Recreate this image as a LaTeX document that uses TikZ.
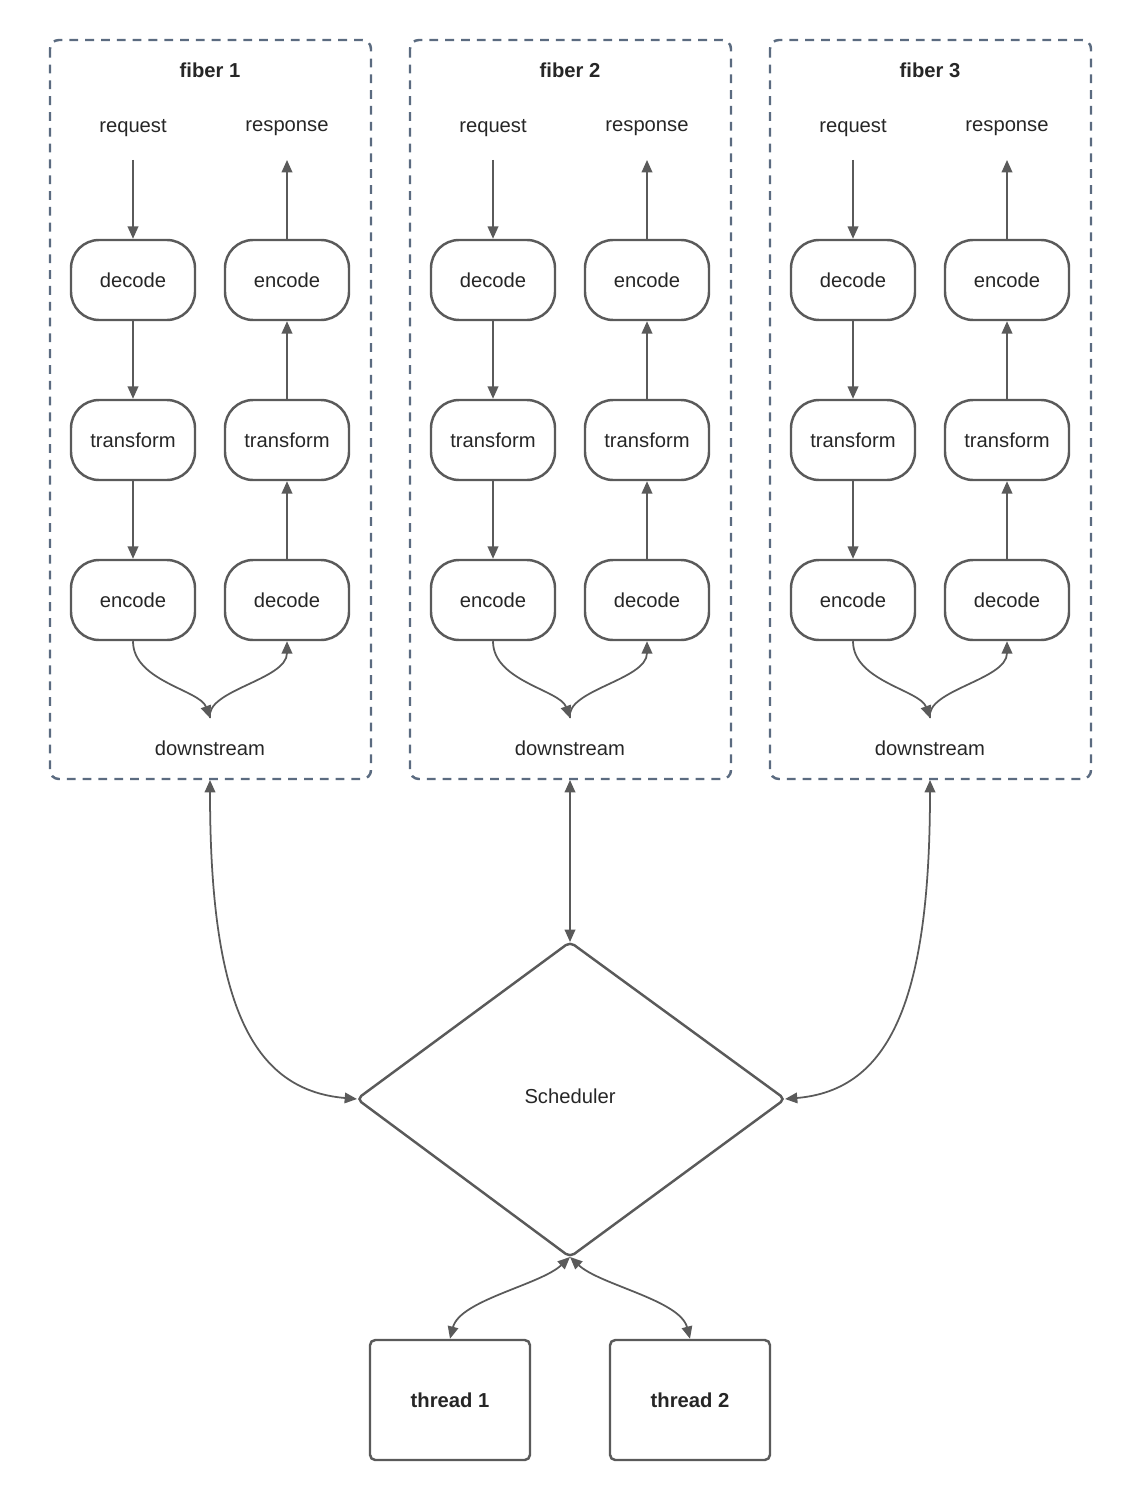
\documentclass[tikz,border=0pt]{standalone}
\usepackage{fontspec}
\setmainfont{Liberation Sans}
\usetikzlibrary{arrows.meta}
\definecolor{ln}{HTML}{5A5A5A}
\definecolor{dash}{HTML}{5B6B80}
\begin{document}
\begin{tikzpicture}[x=0.02cm,y=-0.02cm,
  every node/.style={font=\fontsize{11.5}{13}\selectfont,text=black!85},
  fib/.style={draw=dash,line width=1.4pt,dash pattern=on 5pt off 4pt,rounded corners=5pt},
  pill/.style={draw=ln,line width=1.4pt,rounded corners=16pt,minimum width=124*0.02cm,minimum height=80*0.02cm,inner sep=0pt},
  thr/.style={draw=ln,line width=1.4pt,rounded corners=3pt,minimum width=160*0.02cm,minimum height=120*0.02cm,font=\fontsize{11.5}{13}\selectfont\bfseries},
  ar/.style={draw=ln,line width=1pt,-{Triangle[length=7pt,width=6pt]}},
  dar/.style={draw=ln,line width=1pt,{Triangle[length=7pt,width=6pt]}-{Triangle[length=7pt,width=6pt]}}]
\useasboundingbox (0,0) rectangle (1140,1500);
\foreach \i/\x in {1/210,2/570,3/930}{
  \draw[fib] (\x-160,40) rectangle (\x+161,779);
  \coordinate (fb\i) at (\x,780);
  \node[font=\fontsize{11.5}{13}\selectfont\bfseries] at (\x,70) {fiber \i};
  \node (req\i) at (\x-77,128) {request};
  \node (resp\i) at (\x+77,128) {response};
  \coordinate (reqb\i) at (\x-77,160);
  \coordinate (respb\i) at (\x+77,160);
  \node[pill] (d1\i) at (\x-77,280) {decode};
  \node[pill] (t1\i) at (\x-77,440) {transform};
  \node[pill] (e1\i) at (\x-77,600) {encode};
  \node[pill] (e2\i) at (\x+77,280) {encode};
  \node[pill] (t2\i) at (\x+77,440) {transform};
  \node[pill] (d2\i) at (\x+77,600) {decode};
  \coordinate (ds\i) at (\x,718);
  \node (dsl\i) at (\x,748) {downstream};
  \draw[ar] (reqb\i) -- (d1\i);
  \draw[ar] (d1\i) -- (t1\i);
  \draw[ar] (t1\i) -- (e1\i);
  \draw[ar] (d2\i) -- (t2\i);
  \draw[ar] (t2\i) -- (e2\i);
  \draw[ar] (e2\i) -- (respb\i);
  \draw[ar] (e1\i.south) .. controls +(0,40) and (\x-10,690) .. (ds\i);
  \draw[ar] (ds\i) .. controls (\x-5,690) and (\x+77,680) .. (d2\i.south);
}
\coordinate (dt) at (570,942);
\coordinate (dl) at (357,1099);
\coordinate (dr) at (785,1099);
\coordinate (db) at (570,1257);
\draw[draw=ln,line width=1.4pt,rounded corners=3pt] (dt) -- (dr) -- (db) -- (dl) -- cycle;
\node (sch) at (570,1096) {Scheduler};
\node[thr] (th1) at (450,1400) {thread 1};
\node[thr] (th2) at (690,1400) {thread 2};
\draw[dar] (fb1) .. controls (210,1000) and (250,1090) .. (dl);
\draw[dar] (fb2) -- (dt);
\draw[dar] (fb3) .. controls (930,1000) and (890,1090) .. (dr);
\draw[dar] (db) .. controls (540,1285) and (460,1300) .. (th1.north);
\draw[dar] (db) .. controls (600,1285) and (680,1300) .. (th2.north);
\end{tikzpicture}
\end{document}
